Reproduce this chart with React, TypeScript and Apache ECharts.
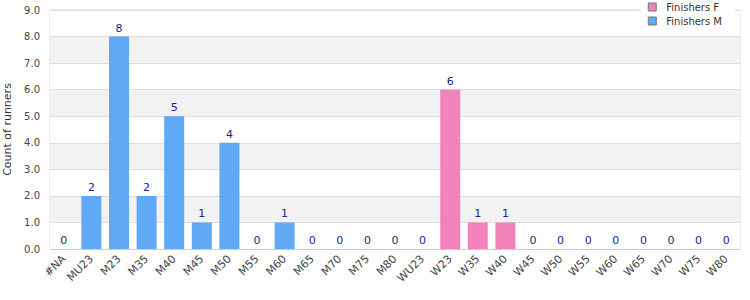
import React, { useEffect, useRef } from "react";
import * as echarts from "echarts";

const categories = ["#NA", "MU23", "M23", "M35", "M40", "M45", "M50", "M55", "M60", "M65", "M70", "M75", "M80", "WU23", "W23", "W35", "W40", "W45", "W50", "W55", "W60", "W65", "W70", "W75", "W80"];
const finishersM: (number | null)[] = [0, 2, 8, 2, 5, 1, 4, 0, 1, 0, 0, 0, 0, 0, null, null, null, null, null, null, null, null, null, null, null];
const finishersF: (number | null)[] = [null, null, null, null, null, null, null, null, null, null, null, null, null, null, 6, 1, 1, 0, 0, 0, 0, 0, 0, 0, 0];
const yAxisTitle = "Count of runners";

const FONT = "DejaVu Sans, Verdana, sans-serif";

export default function App() {
  const ref = useRef<HTMLDivElement>(null);
  useEffect(() => {
    document.body.style.margin = "0";
    if (!ref.current) return;
    const chart = echarts.init(ref.current, undefined, { renderer: "svg" });
    const label = {
      show: true,
      position: "top",
      distance: 3,
      color: "#1c1c8f",
      fontFamily: FONT,
      fontSize: 11,
    };
    chart.setOption({
      animation: false,
      textStyle: { fontFamily: FONT },
      grid: {
        left: 50,
        right: 10,
        top: 10,
        bottom: 51,
        containLabel: false,
        outerBoundsMode: "none",
        show: true,
        borderColor: "#dddddd",
        borderWidth: 1,
      },
      legend: {
        orient: "vertical",
        right: 15,
        top: 0,
        padding: [2, 13, 2, 7],
        backgroundColor: "#ffffff",
        itemWidth: 8,
        itemHeight: 8,
        itemGap: 4,
        icon: "rect",
        textStyle: { fontFamily: FONT, fontSize: 10, color: "#333", padding: [0, 0, 0, 5] },
        data: [
          { name: "Finishers F", itemStyle: { borderColor: "#777", borderWidth: 1 } },
          { name: "Finishers M", itemStyle: { borderColor: "#777", borderWidth: 1 } },
        ],
      },
      xAxis: {
        type: "category",
        data: categories,
        axisLine: { show: true, lineStyle: { color: "#cccccc" } },
        axisTick: { show: false },
        axisLabel: {
          rotate: 45,
          interval: 0,
          margin: 8,
          color: "#444",
          fontFamily: FONT,
          fontSize: 11,
        },
      },
      yAxis: {
        type: "value",
        min: 0,
        max: 9,
        interval: 1,
        name: yAxisTitle,
        nameLocation: "middle",
        nameGap: 37,
        nameTextStyle: { fontFamily: FONT, fontSize: 11, color: "#333" },
        axisLine: { show: false },
        axisTick: { show: false },
        axisLabel: {
          formatter: (v: number) => v.toFixed(1),
          color: "#444",
          fontFamily: FONT,
          fontSize: 10,
          margin: 10,
        },
        splitLine: { show: true, lineStyle: { color: "#dddddd" } },
        splitArea: { show: true, areaStyle: { color: ["#ffffff", "#f2f2f2"] } },
      },
      series: [
        {
          name: "Finishers F",
          type: "bar",
          stack: "all",
          data: finishersF,
          barWidth: 20,
          itemStyle: { color: "#f282ba" },
          label,
        },
        {
          name: "Finishers M",
          type: "bar",
          stack: "all",
          data: finishersM,
          barWidth: 20,
          itemStyle: { color: "#60a9f5" },
          label,
        },
      ],
    });
    return () => chart.dispose();
  }, []);
  return <div ref={ref} style={{ position: "absolute", left: 0, top: 0, width: 750, height: 300 }} />;
}
